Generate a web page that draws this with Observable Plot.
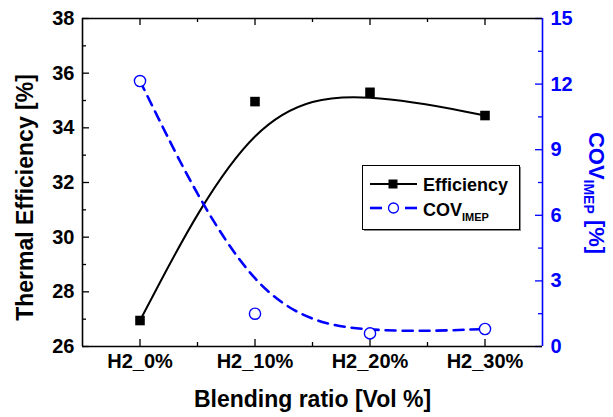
<!DOCTYPE html>
<html><head><meta charset="utf-8">
<script src="https://cdn.jsdelivr.net/npm/d3@7"></script>
<script src="https://cdn.jsdelivr.net/npm/@observablehq/plot@0.6"></script>
<style>body{margin:0;background:#fff} svg{display:block}</style>
</head><body><div id="chart"></div>
<script>
const categories = ["H2_0%", "H2_10%", "H2_20%", "H2_30%"];
const efficiency = [26.95, 34.96, 35.30, 34.45];
const covImep = [12.14, 1.50, 0.60, 0.80];
const effTicks = [26, 28, 30, 32, 34, 36, 38];
const effMinorTicks = [27, 29, 31, 33, 35, 37];
const covTicks = [0, 3, 6, 9, 12, 15];
const covMinorTicks = [1.5, 4.5, 7.5, 10.5, 13.5];
const xTicks = [0, 1, 2, 3];
const xMinorTicks = [0.5, 1.5, 2.5];

const BLUE = "#0000ff";
const effDomain = [26, 38], covDomain = [0, 15];
const covToEff = v => effDomain[0] + (v - covDomain[0]) * (effDomain[1] - effDomain[0]) / (covDomain[1] - covDomain[0]);
const effToCov = e => covDomain[0] + (e - effDomain[0]) * (covDomain[1] - covDomain[0]) / (effDomain[1] - effDomain[0]);

const data = categories.map((c, i) => ({i, c, eff: efficiency[i], cov: covImep[i]}));

const W = 613, H = 417, mL = 82, mR = 71, mT = 18, mB = 71;
const pw = W - mL - mR, ph = H - mT - mB;

const chart = Plot.plot({
  width: W, height: H,
  marginLeft: mL, marginRight: mR, marginTop: mT, marginBottom: mB,
  style: {fontFamily: "'Liberation Sans', Arial, sans-serif", fontWeight: "bold", background: "#fff", color: "#000"},
  x: {domain: [-0.5, 3.5], axis: null},
  y: {domain: effDomain, axis: null},
  marks: [
    // ticks (inward)
    Plot.tickY(effTicks, {y: d => d, insetRight: pw - 7, stroke: "#000", strokeWidth: 1.3}),
    Plot.tickY(effMinorTicks, {y: d => d, insetRight: pw - 4, stroke: "#000", strokeWidth: 1.3}),
    Plot.tickY(covTicks.map(covToEff), {y: d => d, insetLeft: pw - 7, stroke: BLUE, strokeWidth: 1.3}),
    Plot.tickY(covMinorTicks.map(covToEff), {y: d => d, insetLeft: pw - 4, stroke: BLUE, strokeWidth: 1.3}),
    Plot.tickX(xTicks, {x: d => d, insetTop: ph - 7, stroke: "#000", strokeWidth: 1.3}),
    Plot.tickX(xMinorTicks, {x: d => d, insetTop: ph - 4, stroke: "#000", strokeWidth: 1.3}),
    Plot.tickX(xTicks, {x: d => d, insetBottom: ph - 7, stroke: "#000", strokeWidth: 1.3}),
    Plot.tickX(xMinorTicks, {x: d => d, insetBottom: ph - 4, stroke: "#000", strokeWidth: 1.3}),
    // frame
    Plot.ruleY([effDomain[0]], {stroke: "#000", strokeWidth: 1.6}),
    Plot.ruleY([effDomain[1]], {stroke: "#000", strokeWidth: 1.6}),
    Plot.ruleX([-0.5], {stroke: "#000", strokeWidth: 1.6}),
    Plot.ruleX([3.5], {stroke: BLUE, strokeWidth: 1.6}),
    // axis labels
    Plot.axisY(effTicks, {anchor: "left", tickSize: 0, tickPadding: 8, fontSize: 20, label: null}),
    Plot.axisY(covTicks.map(covToEff), {anchor: "right", tickSize: 0, tickPadding: 8, fontSize: 20, label: null, fill: BLUE,
      tickFormat: d => String(Math.round(effToCov(d)))}),
    Plot.axisX(xTicks, {anchor: "bottom", tickSize: 0, tickPadding: 7, fontSize: 20, label: null, tickFormat: i => categories[i]}),
    Plot.text(["Thermal Efficiency [%]"], {frameAnchor: "left", textAnchor: "middle", lineAnchor: "middle", rotate: -90, dx: -57, dy: 15, fontSize: 23, fill: "#000"}),
    Plot.text(["Blending ratio [Vol %]"], {frameAnchor: "bottom", textAnchor: "middle", lineAnchor: "middle", dy: 53, fontSize: 23, fill: "#000"}),
    // data
    Plot.line(data, {x: "i", y: "eff", curve: "basis", stroke: "#000", strokeWidth: 2}),
    Plot.line(data, {x: "i", y: d => covToEff(d.cov), curve: "basis", stroke: BLUE, strokeWidth: 2.6, strokeDasharray: "10,7"}),
    Plot.dot(data, {x: "i", y: "eff", symbol: "square", r: 5.4, fill: "#000", stroke: "none"}),
    Plot.dot(data, {x: "i", y: d => covToEff(d.cov), symbol: "circle", r: 5.6, fill: "#fff", stroke: BLUE, strokeWidth: 1.4})
  ]
});

const svg = d3.select(chart);
// right axis title with subscript
const rt = svg.append("text")
  .attr("transform", "translate(589,193) rotate(90)")
  .attr("text-anchor", "middle")
  .attr("fill", BLUE)
  .attr("font-size", 22)
  .attr("font-weight", "bold");
rt.append("tspan").text("COV");
rt.append("tspan").attr("font-size", 14).attr("dy", 5).text("IMEP");
rt.append("tspan").attr("dy", -5).text(" [%]");

// legend
const lg = svg.append("g").attr("text-anchor", "start");
lg.append("rect").attr("x", 364).attr("y", 167).attr("width", 157).attr("height", 64).attr("fill", "#888").attr("stroke", "none");
lg.append("rect").attr("x", 362.5).attr("y", 165.5).attr("width", 157).attr("height", 64).attr("fill", "#fff").attr("stroke", "#000").attr("stroke-width", 1);
lg.append("line").attr("x1", 370).attr("x2", 417).attr("y1", 184).attr("y2", 184).attr("stroke", "#000").attr("stroke-width", 2);
lg.append("rect").attr("x", 388.5).attr("y", 179.5).attr("width", 9).attr("height", 9).attr("fill", "#000").attr("stroke", "none");
lg.append("text").attr("x", 423).attr("y", 190.5).attr("text-anchor", "start").attr("font-size", 18).attr("font-weight", "bold").attr("fill", "#000").text("Efficiency");
lg.append("line").attr("x1", 370).attr("x2", 382).attr("y1", 208).attr("y2", 208).attr("stroke", BLUE).attr("stroke-width", 2.6);
lg.append("line").attr("x1", 405).attr("x2", 417).attr("y1", 208).attr("y2", 208).attr("stroke", BLUE).attr("stroke-width", 2.6);
lg.append("circle").attr("cx", 393.5).attr("cy", 208).attr("r", 5).attr("fill", "#fff").attr("stroke", BLUE).attr("stroke-width", 1.3);
const ct = lg.append("text").attr("x", 423).attr("y", 215.5).attr("text-anchor", "start").attr("font-size", 18).attr("font-weight", "bold").attr("fill", "#000");
ct.append("tspan").text("COV");
ct.append("tspan").attr("font-size", 11).attr("dy", 5.5).text("IMEP");

document.getElementById("chart").appendChild(chart);
</script>
</body></html>
